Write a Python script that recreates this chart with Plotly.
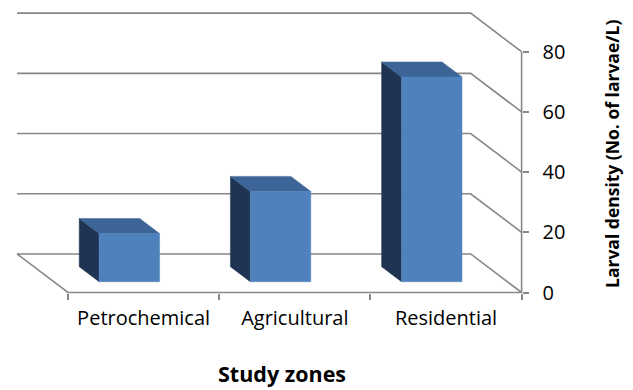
import plotly.graph_objects as go

# Data
zones = ["Petrochemical", "Agricultural", "Residential"]
density = [16, 30, 68]
y_ticks = [0, 20, 40, 60, 80]

# Pseudo-3D geometry (in axis units)
DX, DY = -0.337, 12.8          # full depth offset of the back wall
F0, F1 = 0.28, 0.67            # bar front/back depth fractions
BAR_W = 0.4                    # bar width as fraction of a category slot
N = len(zones)

GRID = "#878787"
FRONT = "#4F81BD"
SIDE = "#1F3452"
TOP = "#3C6497"
FONT = "Open Sans"

fig = go.Figure()

# back wall gridlines + right side wall diagonals
gx, gy = [], []
for v in y_ticks:
    gx += [DX, N + DX, N, None]
    gy += [v + DY, v + DY, v, None]
# floor: left diagonal edge and front edge, plus the vertical value axis line
gx += [DX, 0, N, None, N, N, None]
gy += [DY, 0, 0, None, 0, y_ticks[-1], None]
fig.add_trace(go.Scatter(x=gx, y=gy, mode="lines", line=dict(color=GRID, width=1.6),
                         hoverinfo="skip", showlegend=False))

def poly(xs, ys, color):
    fig.add_trace(go.Scatter(x=xs + [xs[0]], y=ys + [ys[0]], mode="lines", fill="toself",
                             fillcolor=color, line=dict(color=color, width=0.5),
                             hoverinfo="skip", showlegend=False))

for i, (name, v) in enumerate(zip(zones, density)):
    c = i + 0.5
    xl, xr = c - BAR_W / 2, c + BAR_W / 2
    fx, fy = F0 * DX, F0 * DY
    bx, by = F1 * DX, F1 * DY
    # left side face
    poly([xl + fx, xl + fx, xl + bx, xl + bx], [fy, v + fy, v + by, by], SIDE)
    # top face
    poly([xl + fx, xr + fx, xr + bx, xl + bx], [v + fy, v + fy, v + by, v + by], TOP)
    # front face
    poly([xl + fx, xr + fx, xr + fx, xl + fx], [fy, fy, v + fy, v + fy], FRONT)

W, H = 633, 390
px_per_slot = 151.2
x0_px = 68
px_per_unit = 3.01
y0_px = 292.5

fig.update_layout(
    width=W, height=H,
    margin=dict(l=0, r=0, t=0, b=0),
    paper_bgcolor="white", plot_bgcolor="white",
    font=dict(family=FONT, color="black", size=20),
    xaxis=dict(
        range=[-x0_px / px_per_slot, (W - x0_px) / px_per_slot],
        anchor="free", position=(H - y0_px) / H,
        tickvals=[i + 0.5 for i in range(N)], ticktext=zones,
        ticks="", showgrid=False, zeroline=False, showline=False,
        ticklabelstandoff=11,
        minor=dict(tickvals=list(range(N + 1)), ticks="outside", ticklen=6,
                   tickcolor=GRID, tickwidth=1.6, showgrid=False),
        tickfont=dict(size=20),
    ),
    yaxis=dict(
        range=[-(H - y0_px) / px_per_unit, y0_px / px_per_unit],
        anchor="free", position=(x0_px + N * px_per_slot) / W, side="right",
        tickvals=y_ticks, ticks="outside", ticklen=6, tickcolor=GRID, tickwidth=1.6,
        showgrid=False, zeroline=False, showline=False,
        ticklabelstandoff=10,
        tickfont=dict(size=20),
    ),
    annotations=[
        dict(text="<b>Study zones</b>", x=282 / W, y=1 - 373 / H, xref="paper", yref="paper",
             showarrow=False, font=dict(size=21.5), xanchor="center", yanchor="middle"),
        dict(text="<b>Larval density (No. of larvae/L)</b>", x=612 / W, y=1 - 154 / H,
             xref="paper", yref="paper", showarrow=False, textangle=-90,
             font=dict(size=17.5), xanchor="center", yanchor="middle"),
    ],
)

fig.write_html("out.html")
